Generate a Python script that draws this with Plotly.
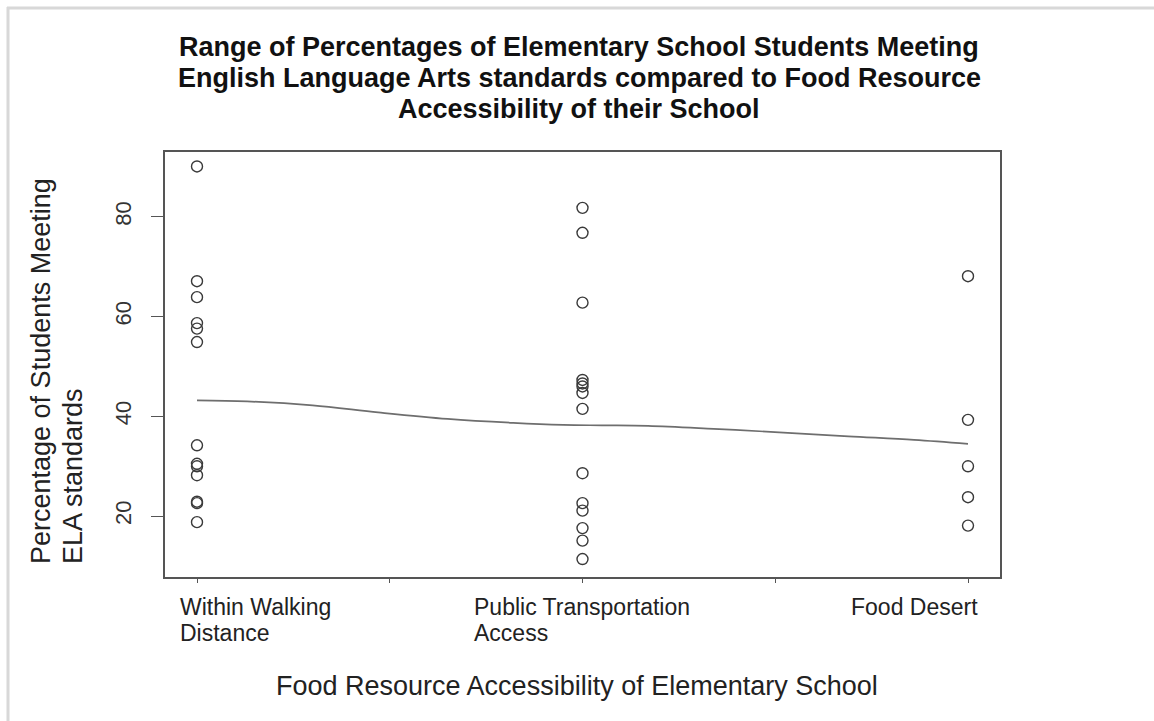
import plotly.graph_objects as go

# Percentage of students meeting ELA standards, by food access group
walking_pct = [90.1, 67.1, 63.9, 58.7, 57.6, 54.9, 34.2, 30.5, 30.0, 28.2, 22.9, 22.6, 18.8]
transit_pct = [81.8, 76.8, 62.8, 47.3, 46.6, 46.0, 44.7, 41.5, 28.6, 22.6, 21.1, 17.6, 15.1, 11.4]
desert_pct = [68.1, 39.3, 30.0, 23.8, 18.1]

# Group positions on the numeric x axis and their (two-line) labels
group_pos = [1, 2, 3]
group_labels = [["Within Walking", "Distance"], ["Public Transportation", "Access"], ["Food Desert"]]

# Smoothed trend curve across groups
smooth_x = [1.0, 1.13, 1.30, 1.47, 1.65, 1.82, 1.95, 2.05, 2.17, 2.34, 2.51, 2.69, 2.86, 3.0]
smooth_y = [43.2, 43.0, 42.2, 40.8, 39.5, 38.7, 38.3, 38.2, 38.1, 37.5, 36.8, 36.0, 35.3, 34.5]

y_ticks = [20, 40, 60, 80]
x_ticks = [1, 1.5, 2, 2.5, 3]

title_lines = [
    "Range of Percentages of Elementary School Students Meeting",
    "English Language Arts standards compared to Food Resource",
    "Accessibility of their School",
]
y_title_lines = ["Percentage of Students Meeting", "ELA standards"]
x_title = "Food Resource Accessibility of Elementary School"

FONT = "Liberation Sans, Arial, Helvetica, sans-serif"

W, H = 1154, 721
L, R, T, B = 165, 154, 152, 144
pw, ph = W - L - R, H - T - B


def px(xp):
    return (xp - L) / pw


def py(yp):
    return (H - B - yp) / ph


xs, ys = [], []
for pos, vals in zip(group_pos, [walking_pct, transit_pct, desert_pct]):
    xs += [pos] * len(vals)
    ys += vals

fig = go.Figure()
fig.add_trace(go.Scatter(
    x=xs, y=ys, mode="markers",
    marker=dict(symbol="circle-open", size=11, color="#3a3a3a", line=dict(width=1.4)),
    showlegend=False, hoverinfo="y",
))
fig.add_trace(go.Scatter(
    x=smooth_x, y=smooth_y, mode="lines",
    line=dict(color="#6e6e6e", width=1.7, shape="spline"),
    showlegend=False, hoverinfo="skip",
))

annotations = []

# Title, one annotation per line
for text, yc in zip(title_lines, [47, 78, 109]):
    annotations.append(dict(
        x=px(579), y=py(yc), xref="paper", yref="paper", text="<b>" + text + "</b>",
        showarrow=False, xanchor="center", yanchor="middle",
        font=dict(family=FONT, size=27, color="#111111"),
    ))

# Group labels under the axis
label_x = [0.951, 1.713, 3.031]
label_anchor = ["left", "left", "right"]
for lx, lines, anc in zip(label_x, group_labels, label_anchor):
    for line, yc in zip(lines, [607, 633]):
        annotations.append(dict(
            x=lx, y=py(yc), xref="x", yref="paper", text=line,
            showarrow=False, xanchor=anc, yanchor="middle",
            font=dict(family=FONT, size=23, color="#222222"),
        ))

# x axis title
annotations.append(dict(
    x=px(577), y=py(686), xref="paper", yref="paper", text=x_title,
    showarrow=False, xanchor="center", yanchor="middle",
    font=dict(family=FONT, size=27, color="#222222"),
))

# Two-line y axis title, each line starting at the bottom
for text, xc in zip(y_title_lines, [41, 73]):
    annotations.append(dict(
        x=px(xc), y=py(566), xref="paper", yref="paper", text=text,
        textangle=-90, showarrow=False, xanchor="center", yanchor="bottom",
        font=dict(family=FONT, size=27, color="#222222"),
    ))

fig.update_layout(
    width=W, height=H,
    margin=dict(l=L, r=R, t=T, b=B),
    paper_bgcolor="white", plot_bgcolor="white",
    xaxis=dict(
        range=[0.917, 3.083], tickvals=x_ticks, showticklabels=False,
        ticks="outside", ticklen=4, tickcolor="#555555", tickwidth=1.3,
        showline=True, mirror=True, linecolor="#555555", linewidth=1.5,
        showgrid=False, zeroline=False,
    ),
    yaxis=dict(
        range=[7.8, 93.0], tickvals=y_ticks, tickangle=-90,
        ticks="outside", ticklen=12, tickcolor="#555555", tickwidth=1.3,
        ticklabelstandoff=11,
        tickfont=dict(family=FONT, size=22, color="#333333"),
        showline=True, mirror=True, linecolor="#555555", linewidth=1.5,
        showgrid=False, zeroline=False,
    ),
    annotations=annotations,
    shapes=[
        dict(type="line", xref="paper", yref="paper",
             x0=px(8), x1=px(8), y0=py(H), y1=py(7),
             line=dict(color="#d8d8d8", width=3)),
        dict(type="line", xref="paper", yref="paper",
             x0=px(7), x1=px(W), y0=py(8), y1=py(8),
             line=dict(color="#d8d8d8", width=3)),
    ],
)

fig.write_html("out.html")
